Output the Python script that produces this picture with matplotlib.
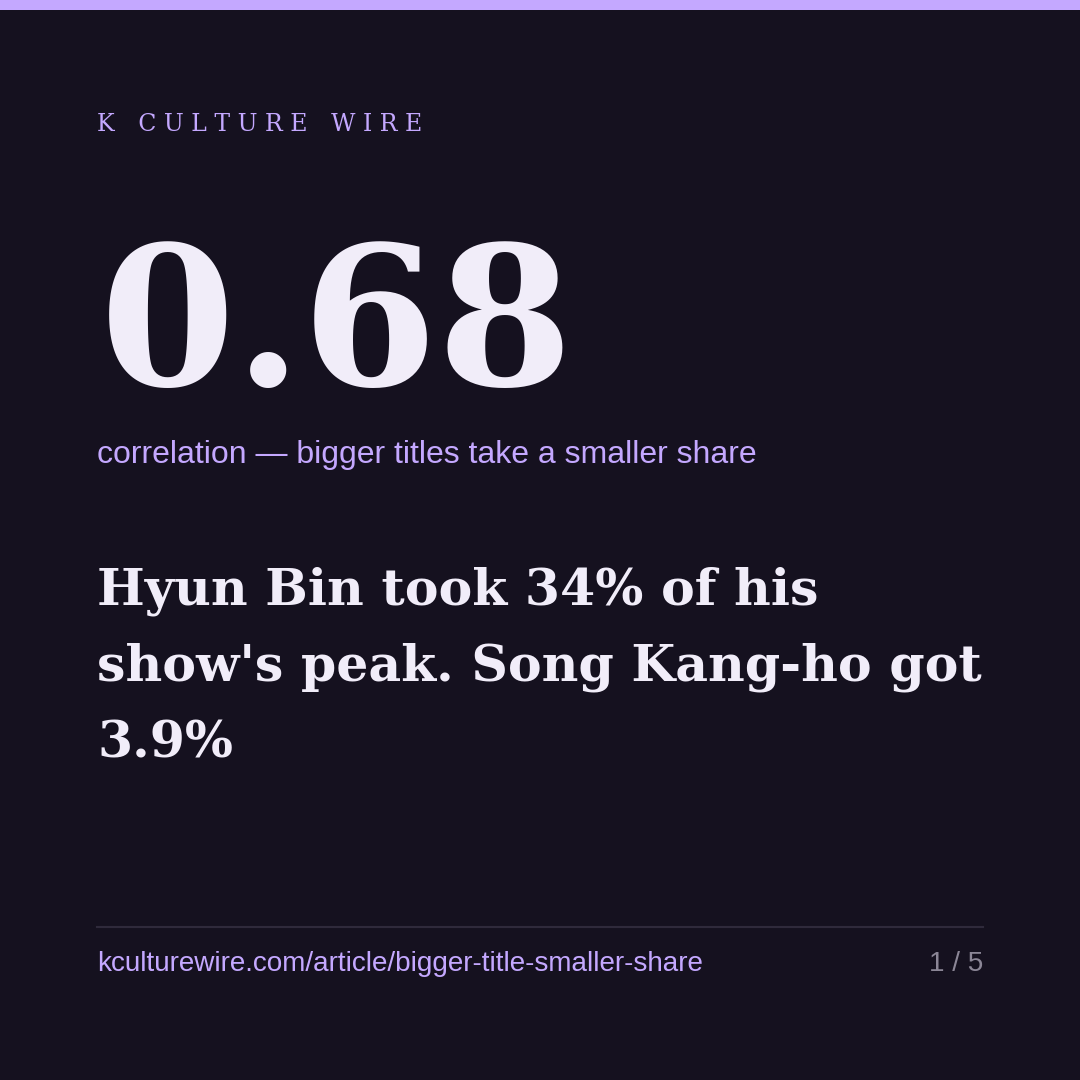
import matplotlib
matplotlib.use("Agg")
import matplotlib.pyplot as plt
from matplotlib.patches import Rectangle
from matplotlib.lines import Line2D

# card content
kicker = "K CULTURE WIRE"
stat_value = "0.68"
stat_caption = "correlation \u2014 bigger titles take a smaller share"
headline_lines = ["Hyun Bin took 34% of his", "show's peak. Song Kang-ho got", "3.9%"]
source_url = "kculturewire.com/article/bigger-title-smaller-share"
page_label = "1 / 5"

BG = "#15111f"
ACCENT = "#c4a8ff"
INK = "#f1edf9"
MUTED = "#8b8696"
RULE = "#2f2a3b"

W = H = 1080
fig = plt.figure(figsize=(10.8, 10.8), dpi=100, facecolor=BG)


def fx(px):
    return px / W


def fy(py):
    return 1 - py / H


# top accent bar
fig.patches.append(Rectangle((0, fy(10)), 1, 10 / H, transform=fig.transFigure,
                             facecolor=ACCENT, edgecolor="none"))

# kicker, letter-spaced
words = [" ".join(w) for w in kicker.split(" ")]
spaced = "\u2003".join(words)
fig.text(fx(97), fy(131), spaced, family="DejaVu Serif", fontsize=17,
         color=ACCENT, va="baseline", ha="left")

# big number
fig.text(fx(100), fy(385), stat_value, family="DejaVu Serif", weight="bold",
         fontsize=140, color=INK, va="baseline", ha="left")

fig.text(fx(97), fy(463), stat_caption, family="Liberation Sans", fontsize=23,
         color=ACCENT, va="baseline", ha="left")

# headline
for i, line in enumerate(headline_lines):
    fig.text(fx(97), fy(605 + i * 76), line, family="DejaVu Serif", weight="bold",
             fontsize=36.4, color=INK, va="baseline", ha="left")

# footer rule
fig.lines.append(Line2D([fx(97), fx(983)], [fy(927), fy(927)], transform=fig.transFigure,
                        color=RULE, linewidth=1.5))

fig.text(fx(97), fy(971), source_url, family="Liberation Sans", fontsize=20.1,
         color=ACCENT, va="baseline", ha="left")
fig.text(fx(983), fy(971), page_label, family="Liberation Sans", fontsize=20.1,
         color=MUTED, va="baseline", ha="right")

fig.savefig("out.png", dpi=100, facecolor=BG)
